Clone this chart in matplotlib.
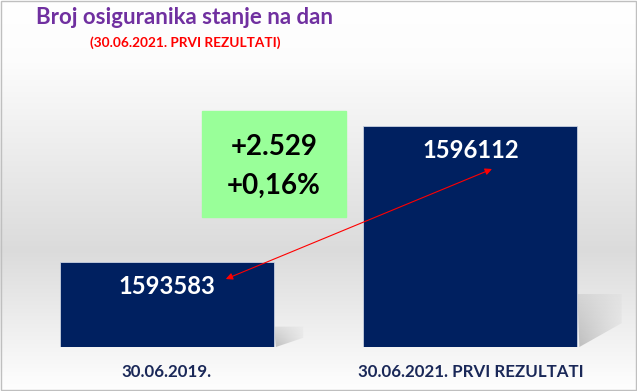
import numpy as np
import matplotlib
matplotlib.use('Agg')
import matplotlib.pyplot as plt
from matplotlib.patches import Rectangle, Polygon

plt.rcParams['font.family'] = ['Lato', 'DejaVu Sans']

# data
categories = ['30.06.2019.', '30.06.2021. PRVI REZULTATI']
values = [1593583, 1596112]
title = 'Broj osiguranika stanje na dan'
subtitle = '(30.06.2021. PRVI REZULTATI)'

BAR_COLOR = '#002060'
LABEL_COLOR = '#1a2858'

W, H = 637, 391
fig = plt.figure(figsize=(W / 100, H / 100), dpi=100)

# background: vertical grey gradient in pixel coords
bg = fig.add_axes([0, 0, 1, 1], zorder=0)
yy = np.arange(H)
shade = np.interp(yy, [0, 60, 250, 391], [1.0, 0.99, 0.86, 1.0])
img = np.repeat(shade[:, None], 2, axis=1)[:, :, None] * np.ones(3)
bg.imshow(img, extent=(0, W, H, 0), aspect='auto')
bg.add_patch(Rectangle((0.5, 0.5), W - 2, H - 2, fill=False, ec='#bfbfbf', lw=1))

# main axes
ax = fig.add_axes([20 / W, 44 / H, 597 / W, 247 / H], zorder=1)
ax.patch.set_alpha(0)
ymin, ymax = 1592003, 1596596
x = np.arange(len(values))
bars = ax.bar(x, [v - ymin for v in values], bottom=ymin, width=0.705,
              color=BAR_COLOR, edgecolor='#c8d0e0', linewidth=0.6, zorder=2)
ax.set_xlim(-0.484, 1.483)
ax.set_ylim(ymin, ymax)
for s in ax.spines.values():
    s.set_visible(False)
ax.set_yticks([])
ax.set_xticks(x, categories)
ax.tick_params(axis='x', length=0, pad=12.5, labelsize=12.2, labelcolor=LABEL_COLOR)
for lbl in ax.get_xticklabels():
    lbl.set_fontweight('bold')

# value labels inside bars
for xi, v in zip(x, values):
    ax.annotate(f'{v}', (xi, v), xytext=(0, -24), textcoords='offset pixels',
                ha='center', va='center', color='white', fontsize=17.2,
                fontweight='bold', zorder=4)

# difference box
diff = values[1] - values[0]
pct = diff / values[0] * 100
diff_txt = '+' + f'{diff:,}'.replace(',', '.')
pct_txt = '+' + f'{pct:.2f}'.replace('.', ',') + '%'
ax.add_patch(Rectangle((0.305, 0.526), 0.241, 0.429, transform=ax.transAxes,
                       color='#99ff99', clip_on=False, zorder=1))
ax.text(0.4255, 0.81, diff_txt, transform=ax.transAxes, ha='center', va='center',
        fontsize=20, fontweight='bold', color='black', zorder=3)
ax.text(0.4255, 0.652, pct_txt, transform=ax.transAxes, ha='center', va='center',
        fontsize=20, fontweight='bold', color='black', zorder=3)

# double headed arrow between the two bars
ax.annotate('', xy=(x[1] + 0.071, values[1] - 799), xytext=(x[0] + 0.194, values[0] - 316),
            arrowprops=dict(arrowstyle='<|-|>', color='red', lw=0.8,
                            mutation_scale=10, shrinkA=0, shrinkB=0), zorder=5)

# soft shadows behind the bars
for b in bars:
    (dx0, dy0), (dx1, dy1) = ax.transData.transform(
        [(b.get_x(), b.get_y()), (b.get_x() + b.get_width(), b.get_y() + b.get_height())])
    x1 = dx1
    y0 = H - dy0
    h = dy1 - dy0
    rise = 0.24 * h
    ext = 20 + 0.11 * h
    verts = [(x1, y0 - rise), (x1 + ext, y0 - rise), (x1 + ext, y0 - 0.45 * rise), (x1 + 2, y0)]
    poly = Polygon(verts, closed=True, transform=bg.transData, fc='none', ec='none')
    bg.add_patch(poly)
    u = np.linspace(0, 1, 50)
    v = np.linspace(0, 1, 30)[:, None]
    alpha = 0.42 * (1 - 0.8 * u)[None, :] * (0.35 + 0.65 * v)
    rgba = np.zeros((30, 50, 4))
    rgba[..., :3] = 0.45
    rgba[..., 3] = alpha
    im = bg.imshow(rgba, extent=(x1, x1 + ext, y0, y0 - rise), aspect='auto')
    im.set_clip_path(poly)

bg.set_xlim(0, W)
bg.set_ylim(H, 0)
bg.axis('off')

# titles
fig.text(36 / W, 1 - 18 / H, title, ha='left', va='center', color='#7030a0',
         fontsize=16, fontweight='bold')
fig.text(185 / W, 1 - 43 / H, subtitle, ha='center', va='center', color='red',
         fontsize=9.8, fontweight='bold')

fig.savefig('out.png', dpi=100)
